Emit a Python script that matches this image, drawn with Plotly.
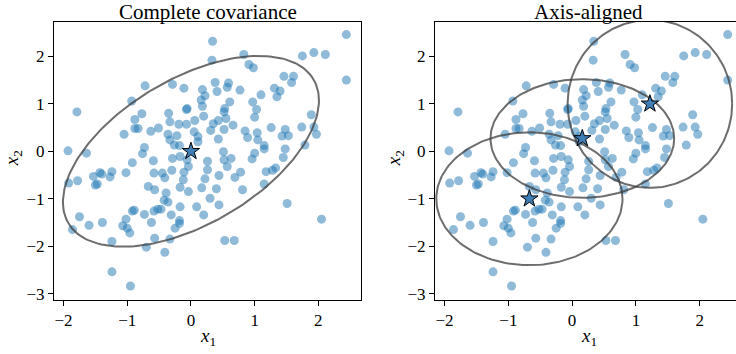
import numpy as np
import plotly.graph_objects as go

# ---- data ----
x_vals = [-0.72,-0.93,-1.79,-0.77,0.34,0.33,0.83,0.91,0.98,-0.29,-0.11,0.38,0.59,0.57,0.41,0.18,0.77,0.22,0.16,0.18,
          0.61,-0.06,0.97,1.03,0.53,-0.35,1.10,2.44,1.75,1.93,2.11,2.44,1.46,1.61,1.58,1.31,1.40,1.35,1.89,-0.88,
          -0.88,-0.83,-1.05,-0.63,-1.93,-1.64,-0.73,-0.76,-0.59,-0.92,-1.43,-1.40,-1.24,-1.27,-1.02,-1.53,-1.78,-1.92,-1.47,-1.50,
          -0.67,-0.57,-0.07,0.20,0.52,0.55,1.00,-0.51,-0.33,-0.19,-0.07,0.06,0.35,0.43,0.66,0.31,0.52,0.05,0.11,-0.36,
          -0.33,-0.22,-0.26,-0.18,0.11,0.43,0.85,0.89,1.04,1.00,0.96,-0.29,-0.17,-0.06,-0.04,-0.11,-0.58,-0.45,-0.30,-0.41,
          0.26,0.26,0.51,0.52,0.63,0.57,0.44,0.78,0.69,0.22,-0.12,-0.17,0.17,0.40,0.81,-0.39,-0.04,0.30,-0.42,-0.36,
          1.26,1.74,1.93,1.48,1.43,1.53,1.97,1.05,1.15,1.15,1.48,1.79,1.45,1.18,1.28,1.33,1.15,1.51,-0.92,-0.89,
          -1.75,-1.60,-1.86,-1.39,-1.02,-1.07,-1.00,-0.96,-1.24,-0.73,-0.62,-0.58,-0.57,-0.70,-1.24,-0.95,-0.52,-0.47,-0.17,-0.31,
          -0.18,-0.18,-0.25,0.09,0.20,0.44,-0.33,-0.41,0.53,0.68,2.05]
y_vals = [1.38,1.06,0.83,0.79,2.32,1.92,2.04,1.83,1.76,1.41,1.33,1.45,1.44,1.35,1.26,1.30,1.29,1.17,1.08,0.95,
          1.04,0.90,1.04,0.88,0.90,0.80,1.19,2.46,2.01,2.08,2.04,1.50,1.58,1.58,1.45,1.33,1.27,1.15,0.77,0.67,
          0.48,0.48,0.36,0.42,0.01,-0.04,0.08,-0.05,-0.20,-0.24,-0.45,-0.48,-0.43,-0.54,-0.45,-0.53,-0.62,-0.67,-0.69,-0.71,
          -0.74,-0.81,0.88,0.74,0.83,0.69,0.72,0.49,0.62,0.57,0.57,0.65,0.58,0.65,0.55,0.44,0.46,0.41,0.31,0.36,
          0.24,0.33,0.13,0.12,0.20,0.26,0.43,0.29,0.39,-0.04,-0.16,-0.15,-0.11,-0.18,-0.32,-0.44,-0.46,-0.46,-0.40,-0.56,
          -0.21,-0.39,-0.01,-0.18,-0.15,-0.32,-0.51,-0.44,-0.55,-0.58,-0.60,-0.76,-0.77,-0.79,-0.81,-0.88,-0.85,-0.99,-1.03,-1.07,
          0.50,0.51,0.51,0.46,0.32,0.33,0.36,0.24,0.12,0.05,0.05,0.13,-0.13,-0.43,-0.40,-0.35,-0.69,-1.10,-1.26,-1.24,
          -1.38,-1.56,-1.65,-1.50,-1.43,-1.57,-1.62,-1.72,-1.90,-1.33,-1.50,-1.26,-1.83,-2.02,-2.54,-2.84,-1.22,-1.22,-1.17,-1.34,
          -1.46,-1.52,-1.62,-1.17,-1.34,-1.13,-1.85,-2.13,-1.88,-1.88,-1.43]

# complete-covariance Gaussian
full_mean = [0.0, 0.0]
full_cov = [[4.04, 2.15], [2.15, 4.04]]   # already scaled to the drawn contour

# axis-aligned mixture components: means and half-widths of the drawn contours
diag_means_x = [1.22, 0.16, -0.67]
diag_means_y = [1.00, 0.27, -1.00]
diag_rx = [1.29, 1.44, 1.46]
diag_ry = [1.77, 1.25, 1.40]

titles = ["Complete covariance", "Axis-aligned"]
tick_vals_x = [-2, -1, 0, 1, 2]
tick_vals_y = [-3, -2, -1, 0, 1, 2]

# ---- figure ----
W, H = 736, 354
FONT = "Liberation Serif"
PT_COLOR = "#1f77b4"
ELL_COLOR = "rgba(60,60,60,0.75)"
STAR_COLOR = "#3f7db5"

fig = go.Figure()
t = np.linspace(0, 2 * np.pi, 200)

def fmt(v):
    return ("\u2212" + str(abs(v))) if v < 0 else str(v)

# left panel
fig.add_trace(go.Scatter(x=x_vals, y=y_vals, mode="markers", xaxis="x", yaxis="y",
                         marker=dict(size=9, color=PT_COLOR, opacity=0.5, line=dict(width=0)),
                         showlegend=False, hoverinfo="skip"))
evals, evecs = np.linalg.eigh(np.array(full_cov))
circ = np.vstack([np.cos(t), np.sin(t)])
pts = evecs @ np.diag(np.sqrt(evals)) @ circ
fig.add_trace(go.Scatter(x=pts[0] + full_mean[0], y=pts[1] + full_mean[1], mode="lines",
                         xaxis="x", yaxis="y", line=dict(color=ELL_COLOR, width=2),
                         showlegend=False, hoverinfo="skip"))
fig.add_trace(go.Scatter(x=[full_mean[0]], y=[full_mean[1]], mode="markers", xaxis="x", yaxis="y",
                         marker=dict(symbol="star", size=13, color=STAR_COLOR,
                                     line=dict(color="black", width=1)),
                         showlegend=False, hoverinfo="skip"))

# right panel
fig.add_trace(go.Scatter(x=x_vals, y=y_vals, mode="markers", xaxis="x2", yaxis="y2",
                         marker=dict(size=9, color=PT_COLOR, opacity=0.5, line=dict(width=0)),
                         showlegend=False, hoverinfo="skip"))
for mx, my, rx, ry in zip(diag_means_x, diag_means_y, diag_rx, diag_ry):
    fig.add_trace(go.Scatter(x=mx + rx * np.cos(t), y=my + ry * np.sin(t), mode="lines",
                             xaxis="x2", yaxis="y2", line=dict(color=ELL_COLOR, width=2),
                             showlegend=False, hoverinfo="skip"))
fig.add_trace(go.Scatter(x=diag_means_x, y=diag_means_y, mode="markers", xaxis="x2", yaxis="y2",
                         marker=dict(symbol="star", size=13, color=STAR_COLOR,
                                     line=dict(color="black", width=1)),
                         showlegend=False, hoverinfo="skip"))

axis_common = dict(showgrid=False, zeroline=False, showline=True, linecolor="black", linewidth=1,
                   ticks="outside", ticklen=5, tickwidth=1, tickcolor="black",
                   tickfont=dict(family=FONT, size=17, color="black"))

L0, L1 = 54 / W, 361 / W
R0, R1 = 435 / W, 1.0
B, T = 1 - 303 / H, 1 - 22 / H

def ann(text, xpx, ypx, size, angle=0):
    return dict(text=text, x=xpx / W, y=1 - ypx / H, xref="paper", yref="paper",
                xanchor="center", yanchor="middle", showarrow=False, textangle=angle,
                font=dict(family=FONT, size=size, color="black"))

fig.update_layout(
    width=W, height=H, margin=dict(l=0, r=0, t=0, b=0),
    paper_bgcolor="white", plot_bgcolor="white",
    xaxis=dict(domain=[L0, L1], range=[-2.15, 2.67], mirror=True, anchor="y",
               tickvals=tick_vals_x, ticktext=[fmt(v) for v in tick_vals_x], **axis_common),
    yaxis=dict(domain=[B, T], range=[-3.125, 2.73], mirror=True, anchor="x",
               tickvals=tick_vals_y, ticktext=[fmt(v) for v in tick_vals_y], **axis_common),
    xaxis2=dict(domain=[R0, R1], range=[-2.15, 2.57], mirror=True, anchor="y2",
                tickvals=tick_vals_x, ticktext=[fmt(v) for v in tick_vals_x], **axis_common),
    yaxis2=dict(domain=[B, T], range=[-3.125, 2.73], mirror=False, anchor="x2",
                tickvals=tick_vals_y, ticktext=[fmt(v) for v in tick_vals_y], **axis_common),
    annotations=[
        ann(titles[0], 207.5, 12, 21),
        ann(titles[1], 588.5, 12, 21),
        ann("<i>x</i><sub>1</sub>", 207.5, 341, 19),
        ann("<i>x</i><sub>1</sub>", 588.5, 341, 19),
        ann("<i>x</i><sub>2</sub>", 13, 160, 19, -90),
        ann("<i>x</i><sub>2</sub>", 395, 160, 19, -90),
    ],
)

fig.write_html("out.html")
